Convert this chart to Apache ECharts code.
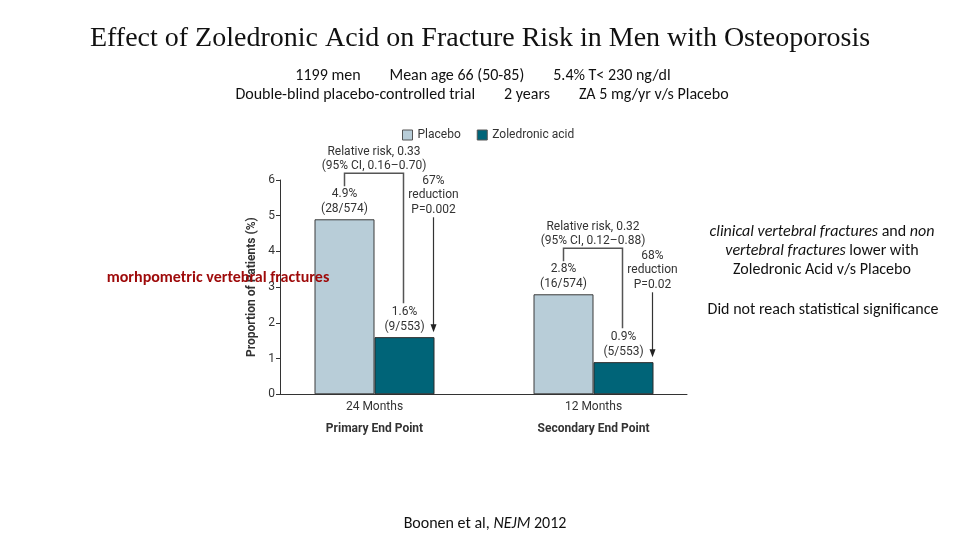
<!DOCTYPE html>
<html>
<head>
<meta charset="utf-8">
<script src="https://cdn.jsdelivr.net/npm/echarts@6/dist/echarts.min.js"></script>
<style>html,body{margin:0;padding:0;background:#fff}#c{width:960px;height:540px}</style>
</head>
<body>
<div id="c"></div>
<script>
// ---- data ----
const categories = ['24 Months', '12 Months'];
const endPoints = ['Primary End Point', 'Secondary End Point'];
const seriesNames = ['Placebo', 'Zoledronic acid'];
const placeboValues = [4.9, 2.8];
const zaValues = [1.6, 0.9];
const placeboCounts = ['28/574', '16/574'];
const zaCounts = ['9/553', '5/553'];
const relRiskText = ['Relative risk, 0.33\n(95% CI, 0.16–0.70)', 'Relative risk, 0.32\n(95% CI, 0.12–0.88)'];
const reductionText = ['67%\nreduction\nP=0.002', '68%\nreduction\nP=0.02'];
const yTicks = [0, 1, 2, 3, 4, 5, 6];

const chartFont = 'Roboto, "Liberation Sans", sans-serif';
const bodyFont = 'Carlito, Lato, "Open Sans", sans-serif';
const BW = 60;

const chart = echarts.init(document.getElementById('c'), null, {renderer: 'canvas'});
const option = {
  animation: false,
  backgroundColor: '#ffffff',
  title: {
    text: 'Effect of Zoledronic Acid on Fracture Risk in Men with Osteoporosis',
    left: 'center', top: 20,
    textStyle: {fontFamily: '"Liberation Serif", "DejaVu Serif", serif', fontSize: 28, fontWeight: 'normal', color: '#111'}
  },
  legend: {
    data: seriesNames, left: 397, top: 124, icon: 'rect', itemWidth: 10, itemHeight: 10, itemGap: 16,
    textStyle: {fontFamily: chartFont, fontSize: 12, color: '#333'},
    itemStyle: {borderColor: '#555', borderWidth: 1}
  },
  grid: [
    {left: 265, width: 438, top: 180, bottom: 145.7},
    {left: 280, width: 407, top: 180, bottom: 145.7}
  ],
  xAxis: [
    {type: 'category', gridIndex: 0, data: categories,
     axisLine: {show: false}, axisTick: {show: false},
     axisLabel: {margin: 2, formatter: (v, i) => '{a|' + v + '}\n{b|' + endPoints[i] + '}',
       rich: {a: {fontFamily: chartFont, fontSize: 12, color: '#333', lineHeight: 22},
              b: {fontFamily: chartFont, fontSize: 12, fontWeight: 'bold', color: '#333', lineHeight: 22}}}},
    {type: 'value', gridIndex: 1, min: 0, max: 1, axisLine: {show: true, lineStyle: {color: '#333', width: 1}},
     axisTick: {show: false}, axisLabel: {show: false}, splitLine: {show: false}}
  ],
  yAxis: [
    {type: 'value', gridIndex: 0, min: 0, max: 6, interval: 1, show: false, splitLine: {show: false}},
    {type: 'value', gridIndex: 1, min: yTicks[0], max: yTicks[yTicks.length - 1], interval: 1,
     axisLine: {show: true, lineStyle: {color: '#333', width: 1}},
     axisTick: {show: true, length: 4, lineStyle: {color: '#333'}},
     axisLabel: {margin: 5, fontFamily: chartFont, fontSize: 12, color: '#333'},
     splitLine: {show: false},
     name: 'Proportion of Patients (%)', nameLocation: 'middle', nameRotate: 90, nameGap: 22,
     nameTextStyle: {fontFamily: chartFont, fontSize: 12, fontWeight: 'bold', color: '#333'}}
  ],
  series: [
    {name: seriesNames[0], type: 'bar', xAxisIndex: 0, yAxisIndex: 0, data: placeboValues,
     barWidth: BW, barGap: '0%',
     itemStyle: {color: '#b8cdd8', borderColor: '#3a3a3a', borderWidth: 1},
     label: {show: true, position: 'top', distance: 3, fontFamily: chartFont, fontSize: 12, lineHeight: 15, color: '#333',
       formatter: p => p.value + '%\n(' + placeboCounts[p.dataIndex] + ')'}},
    {name: seriesNames[1], type: 'bar', xAxisIndex: 0, yAxisIndex: 0, data: zaValues,
     barWidth: BW,
     itemStyle: {color: '#006478', borderColor: '#2a2a2a', borderWidth: 1},
     label: {show: true, position: 'top', distance: 3, fontFamily: chartFont, fontSize: 12, lineHeight: 15, color: '#333',
       formatter: p => p.value + '%\n(' + zaCounts[p.dataIndex] + ')'}}
  ]
};
chart.setOption(option);

// ---- annotations positioned from the chart's own scales ----
const g = [];
categories.forEach((c, i) => {
  const pTop = chart.convertToPixel({xAxisIndex: 0, yAxisIndex: 0}, [i, placeboValues[i]]);
  const zTop = chart.convertToPixel({xAxisIndex: 0, yAxisIndex: 0}, [i, zaValues[i]]);
  const cx = pTop[0];
  const xL = cx - BW / 2, xR = cx + BW / 2 - 1, xA = cx + BW - 1;
  const top = pTop[1] - 46;
  g.push({type: 'polyline', shape: {points: [[xL, pTop[1] - 33], [xL, top], [xR, top], [xR, zTop[1] - 34]]},
    style: {stroke: '#555', lineWidth: 1.5, fill: null}, z: 50});
  g.push({type: 'text', x: (xL + xR) / 2, y: top - 28,
    style: {text: relRiskText[i], fontFamily: chartFont, fontSize: 12, lineHeight: 14, fill: '#333', align: 'center'}, z: 50});
  g.push({type: 'text', x: xA, y: top,
    style: {text: reductionText[i], fontFamily: chartFont, fontSize: 12, lineHeight: 14.5, fill: '#333', align: 'center'}, z: 50});
  const aTop = top + 44, aBot = zTop[1] - 5;
  g.push({type: 'line', shape: {x1: xA, y1: aTop, x2: xA, y2: aBot - 7}, style: {stroke: '#333', lineWidth: 1.2}, z: 50});
  g.push({type: 'polygon', shape: {points: [[xA - 3, aBot - 8], [xA + 3, aBot - 8], [xA, aBot]]}, style: {fill: '#222'}, z: 50});
});

// ---- slide texts ----
g.push({type: 'text', x: 483, y: 68, style: {text: '1199 men        Mean age 66 (50-85)        5.4% T< 230 ng/dl',
  fontFamily: bodyFont, fontSize: 16, fill: '#111', align: 'center'}});
g.push({type: 'text', x: 482, y: 87, style: {text: 'Double-blind placebo-controlled trial        2 years        ZA 5 mg/yr v/s Placebo',
  fontFamily: bodyFont, fontSize: 16, fill: '#111', align: 'center'}});
g.push({type: 'text', x: 218, y: 270, z: 100, style: {text: 'morhpometric vertebral fractures',
  fontFamily: bodyFont, fontSize: 16, fontWeight: 'bold', fill: '#9e0a0a', align: 'center'}});
g.push({type: 'text', x: 822, y: 222.5, style: {
  text: '{i|clinical vertebral fractures}{n| and }{i|non}\n{i|vertebral fractures}{n| lower with}\n{n|Zoledronic Acid v/s Placebo}',
  align: 'center', lineHeight: 19,
  rich: {i: {fontFamily: bodyFont, fontSize: 16, fontStyle: 'italic', fill: '#111', lineHeight: 19},
         n: {fontFamily: bodyFont, fontSize: 16, fill: '#111', lineHeight: 19}}}});
g.push({type: 'text', x: 823, y: 302, style: {text: 'Did not reach statistical significance',
  fontFamily: bodyFont, fontSize: 16, fill: '#111', align: 'center'}});
g.push({type: 'text', x: 485, y: 516, style: {text: '{n|Boonen et al, }{i|NEJM}{n| 2012}', align: 'center',
  rich: {i: {fontFamily: bodyFont, fontSize: 16, fontStyle: 'italic', fill: '#111'},
         n: {fontFamily: bodyFont, fontSize: 16, fill: '#111'}}}});
chart.setOption({graphic: g});
</script>
</body>
</html>
